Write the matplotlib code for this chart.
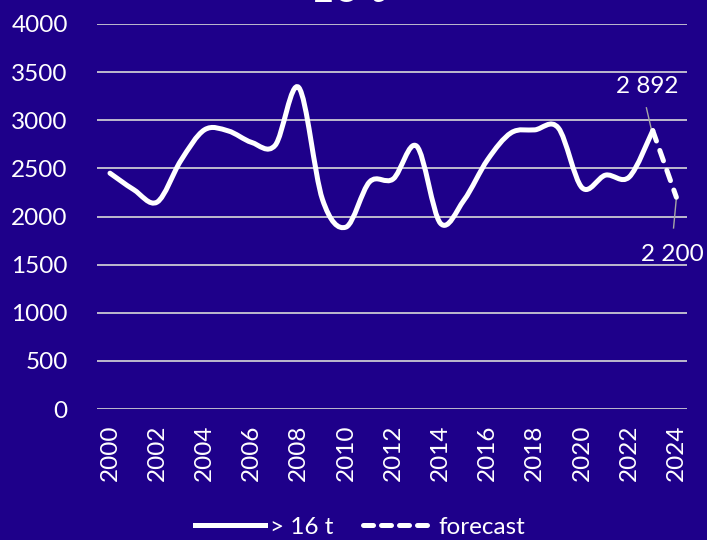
import matplotlib
matplotlib.use("Agg")
import matplotlib.pyplot as plt
from matplotlib.path import Path
from matplotlib.patches import PathPatch
from matplotlib.lines import Line2D
import numpy as np

years = [2000, 2001, 2002, 2003, 2004, 2005, 2006, 2007, 2008, 2009, 2010, 2011,
         2012, 2013, 2014, 2015, 2016, 2017, 2018, 2019, 2020, 2021, 2022, 2023]
values = [2450, 2280, 2150, 2580, 2900, 2890, 2770, 2740, 3340, 2180, 1890, 2360,
          2390, 2730, 1930, 2170, 2590, 2870, 2900, 2920, 2300, 2430, 2410, 2892]
forecast_years = [2023, 2024]
forecast_values = [2892, 2200]
series_label = "> 16 t"
forecast_label = "forecast"
title = "> 16 t"
yticks = [0, 500, 1000, 1500, 2000, 2500, 3000, 3500, 4000]
xticks = list(range(2000, 2025, 2))

BG = "#1E008A"
GRID = "#D9D9D9"
FONT = "Lato"
FS = 17.5

plt.rcParams['font.family'] = [FONT, 'DejaVu Sans']

fig = plt.figure(figsize=(7.07, 5.40), dpi=100, facecolor=BG)
ax = fig.add_axes([97/707, 1 - 409/540, (687-97)/707, (409-24)/540])
ax.set_facecolor(BG)
ax.set_xlim(1999.45, 2024.45)
ax.set_ylim(0, 4000)


def smooth_path(xs, ys):
    pts = np.column_stack([xs, ys]).astype(float)
    n = len(pts)
    verts = [pts[0]]
    codes = [Path.MOVETO]
    for i in range(n - 1):
        p0 = pts[i - 1] if i > 0 else pts[i]
        p1 = pts[i]
        p2 = pts[i + 1]
        p3 = pts[i + 2] if i + 2 < n else pts[i + 1]
        c1 = p1 + (p2 - p0) / 6.0
        c2 = p2 - (p3 - p1) / 6.0
        verts += [c1, c2, p2]
        codes += [Path.CURVE4] * 3
    return Path(verts, codes)


ax.add_patch(PathPatch(smooth_path(years, values), fill=False, edgecolor="white",
                       lw=3.6, capstyle='round', joinstyle='round', zorder=3))
ax.plot(forecast_years, forecast_values, color="white", lw=3.6,
        linestyle=(0, (2.2, 2.0)), dash_capstyle='round', zorder=3)

ax.set_yticks(yticks)
ax.set_xticks(xticks)
ax.set_xticklabels([str(x) for x in xticks], rotation=90)
ax.grid(axis='y', color=GRID, lw=1.2)
ax.grid(axis='x', visible=False)
ax.set_axisbelow(True)
for s in ax.spines.values():
    s.set_visible(False)
ax.tick_params(axis='both', length=0, colors='white', labelsize=FS)
ax.tick_params(axis='y', pad=21)
ax.tick_params(axis='x', pad=11)

# data labels with leader lines
ax.plot([2022.73, 2022.94], [3129, 2905], color="#A6A6A6", lw=1.0, zorder=2)
ax.text(2022.77, 3350, "2 892", color="white", fontsize=FS, ha='center', va='center')
ax.plot([2024.0, 2023.88], [2193, 1881], color="#A6A6A6", lw=1.0, zorder=2)
ax.text(2023.84, 1610, "2 200", color="white", fontsize=FS, ha='center', va='center',
        clip_on=False)

fig.text(330/707, 1 - 2/540, title, color="white", fontsize=30, weight='bold',
         ha='center', va='baseline')

handles = [Line2D([0], [0], color='white', lw=3.6),
           Line2D([0], [0], color='white', lw=3.6, linestyle=(0, (2.0, 1.6)),
                  dash_capstyle='round')]
leg = fig.legend(handles, [series_label, forecast_label], loc='center',
                 bbox_to_anchor=(360/707, 1 - 527/540), ncol=2, frameon=False,
                 fontsize=FS, handlelength=2.9, handletextpad=0.2,
                 columnspacing=1.2, borderaxespad=0)
for t in leg.get_texts():
    t.set_color('white')

fig.savefig("out.png", dpi=100, facecolor=BG)
